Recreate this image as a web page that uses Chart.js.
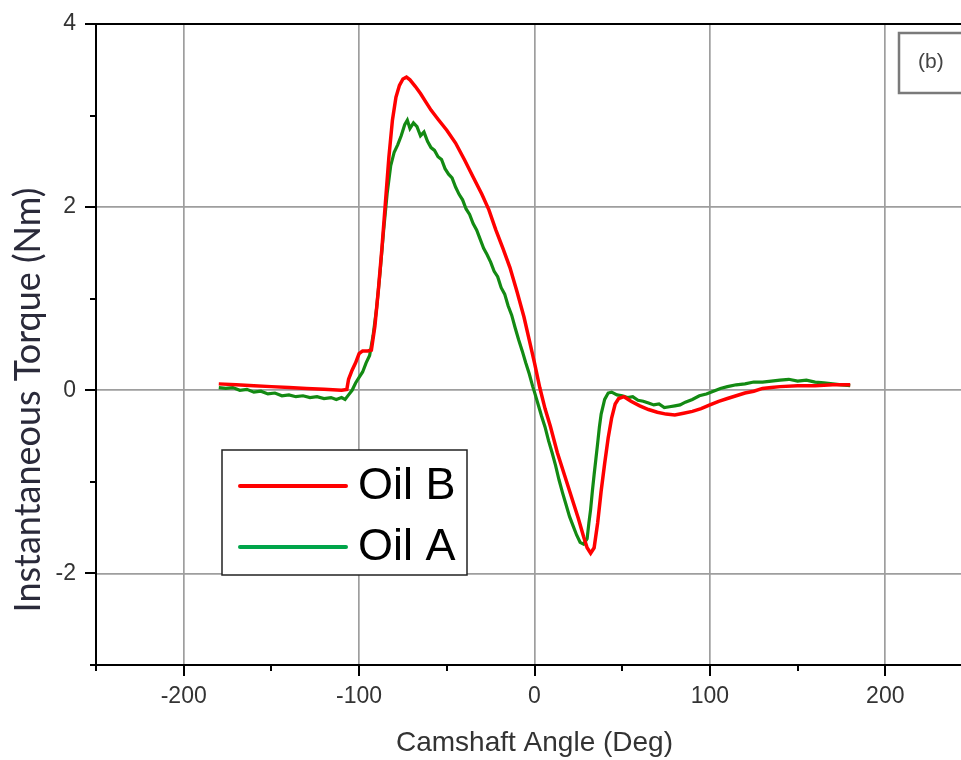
<!DOCTYPE html>
<html>
<head>
<meta charset="utf-8">
<script src="https://cdn.jsdelivr.net/npm/chart.js@4"></script>
<style>
  html, body { margin: 0; padding: 0; background: #fff; overflow: hidden; }
  #wrap { width: 1000px; height: 760px; }
</style>
</head>
<body>
<div id="wrap"><canvas id="c" width="1000" height="760" style="width:1000px;height:760px"></canvas></div>
<script>
// ---- Data ----
const seriesNames = ["Oil B", "Oil A"];

const oilB_angle = [-180,-170,-160,-150,-140,-130,-120,-110,-107,-106,-104,-102,-100,-98,-95,-93,-91,-89,-87,-85,-83,-81,-79,-77,-75,-73,-71,-68,-65,-62,-59,-55,-50,-45,-40,-35,-30,-26,-22,-18,-14,-10,-6,-3,0,3,6,9,13,17,21,25,28,30,32,34,36,38,40,42,44,46,48,51,55,60,65,70,75,80,85,90,95,100,105,110,115,120,125,130,135,140,150,160,170,180];
const oilB_torque = [0.07,0.06,0.05,0.04,0.03,0.02,0.01,0.0,0.01,0.12,0.22,0.30,0.40,0.43,0.43,0.44,0.70,1.10,1.55,2.05,2.55,2.95,3.20,3.33,3.40,3.42,3.39,3.32,3.24,3.15,3.06,2.96,2.84,2.70,2.52,2.33,2.14,1.97,1.75,1.55,1.34,1.08,0.80,0.55,0.30,0.03,-0.20,-0.39,-0.68,-0.92,-1.16,-1.40,-1.60,-1.72,-1.78,-1.72,-1.45,-1.10,-0.80,-0.52,-0.30,-0.15,-0.09,-0.07,-0.12,-0.17,-0.21,-0.24,-0.26,-0.27,-0.25,-0.23,-0.20,-0.16,-0.12,-0.09,-0.06,-0.03,-0.01,0.02,0.03,0.04,0.05,0.05,0.06,0.06];

const oilA_angle = [-180,-176,-172,-168,-164,-160,-156,-152,-148,-144,-140,-136,-132,-128,-124,-120,-116,-113,-110,-108,-106,-104,-102,-100,-98,-96,-94,-92,-90,-88,-86,-84,-82,-80,-78,-76,-74,-72.5,-71,-69,-67,-65,-63,-61,-59,-57,-55,-53,-51,-49,-47,-45,-43,-41,-39,-37,-35,-33,-31,-29,-27,-25,-23,-21,-19,-17,-15,-13,-11,-9,-7,-5,-3,-1,0,2,4,6,8,10,12,14,16,18,20,22,24,26,28,30,31,32,33,34,35,36,37,38,40,42,44,47,50,53,56,59,62,65,68,71,74,77,80,83,86,90,94,98,102,106,110,115,120,125,130,135,140,145,150,155,160,165,170,175,180];
const oilA_torque = [0.03,0.02,0.03,0.0,0.01,-0.02,-0.01,-0.04,-0.03,-0.06,-0.05,-0.07,-0.06,-0.08,-0.07,-0.09,-0.08,-0.10,-0.08,-0.10,-0.05,0.0,0.08,0.14,0.20,0.30,0.38,0.60,0.90,1.30,1.75,2.15,2.45,2.60,2.68,2.78,2.90,2.95,2.86,2.92,2.88,2.78,2.82,2.72,2.65,2.62,2.55,2.52,2.42,2.36,2.32,2.22,2.14,2.08,1.98,1.92,1.82,1.75,1.65,1.55,1.48,1.40,1.30,1.24,1.12,1.05,0.92,0.82,0.68,0.55,0.43,0.30,0.18,0.04,-0.02,-0.15,-0.28,-0.40,-0.55,-0.68,-0.82,-0.98,-1.12,-1.25,-1.38,-1.48,-1.58,-1.66,-1.68,-1.62,-1.45,-1.30,-1.10,-0.92,-0.75,-0.58,-0.40,-0.26,-0.10,-0.03,-0.02,-0.05,-0.06,-0.08,-0.07,-0.11,-0.12,-0.14,-0.16,-0.15,-0.19,-0.18,-0.17,-0.16,-0.13,-0.10,-0.06,-0.04,-0.01,0.02,0.04,0.06,0.07,0.09,0.09,0.10,0.11,0.12,0.10,0.11,0.09,0.08,0.07,0.06,0.05];

const xTickValues = [-200, -100, 0, 100, 200];
const yTickValues = [-2, 0, 2, 4];
const xTitle = "Camshaft Angle (Deg)";
const yTitle = "Instantaneous Torque (Nm)";
const panelLabel = "(b)";

// ---- Styles ----
const lineColors = ["#ff0000", "#138a13"];
const legendColors = ["#ff0000", "#00a54a"];

function pts(xs, ys) { return xs.map((x, i) => ({ x: x, y: ys[i] })); }

const framePlugin = {
  id: 'frameAndExtras',
  afterDraw(chart) {
    const ctx = chart.ctx;
    const a = chart.chartArea;
    const xs = chart.scales.x, ys = chart.scales.y;
    ctx.save();
    // frame
    ctx.strokeStyle = '#000';
    ctx.lineWidth = 2;
    ctx.strokeRect(a.left, a.top, a.right - a.left, a.bottom - a.top);
    // ticks (major / minor)
    ctx.lineWidth = 2;
    ctx.beginPath();
    for (let v = xs.min; v <= xs.max; v += 50) {
      const px = Math.round(xs.getPixelForValue(v));
      const len = (v % 100 === 0) ? 11 : 6;
      ctx.moveTo(px, a.bottom); ctx.lineTo(px, a.bottom + len);
    }
    for (let v = ys.min; v <= ys.max; v += 1) {
      const py = Math.round(ys.getPixelForValue(v));
      const len = (v % 2 === 0) ? 11 : 6;
      ctx.moveTo(a.left, py); ctx.lineTo(a.left - len, py);
    }
    ctx.stroke();

    // y axis title
    ctx.save();
    ctx.translate(28, 400);
    ctx.rotate(-Math.PI / 2);
    ctx.fillStyle = '#2a2a3a';
    ctx.font = '36px Lato, sans-serif';
    ctx.textAlign = 'center';
    ctx.textBaseline = 'middle';
    ctx.fillText(yTitle, 0, 0);
    ctx.restore();

    // legend box
    const lx = 222, ly = 450, lw = 245, lh = 125;
    ctx.fillStyle = '#fff';
    ctx.fillRect(lx, ly, lw, lh);
    ctx.strokeStyle = '#222';
    ctx.lineWidth = 1.5;
    ctx.strokeRect(lx, ly, lw, lh);
    const rows = [486, 547];
    chart.data.datasets.forEach((ds, i) => {
      ctx.strokeStyle = legendColors[i];
      ctx.lineWidth = 4;
      ctx.lineCap = 'round';
      ctx.beginPath();
      ctx.moveTo(240, rows[i]); ctx.lineTo(346, rows[i]);
      ctx.stroke();
      ctx.fillStyle = '#000';
      ctx.font = '45px "Liberation Sans", Arial, sans-serif';
      ctx.textBaseline = 'middle';
      ctx.textAlign = 'left';
      ctx.fillText(ds.label, 358, rows[i] + 1);
    });

    // panel label box
    ctx.lineCap = 'butt';
    ctx.strokeStyle = '#7a7a7a';
    ctx.lineWidth = 2.5;
    ctx.strokeRect(899, 33, 100, 60);
    ctx.fillStyle = '#444';
    ctx.font = '21px "Liberation Sans", Arial, sans-serif';
    ctx.textAlign = 'left';
    ctx.textBaseline = 'middle';
    ctx.fillText(panelLabel, 918, 62);
    ctx.restore();
  }
};

new Chart(document.getElementById('c'), {
  type: 'line',
  data: {
    datasets: [
      { label: seriesNames[0], data: pts(oilB_angle, oilB_torque), borderColor: lineColors[0], backgroundColor: lineColors[0], borderWidth: 3.5, pointRadius: 0, tension: 0, fill: false },
      { label: seriesNames[1], data: pts(oilA_angle, oilA_torque), borderColor: lineColors[1], backgroundColor: lineColors[1], borderWidth: 3.2, pointRadius: 0, tension: 0, fill: false }
    ]
  },
  options: {
    responsive: false,
    animation: false,
    devicePixelRatio: 1,
    layout: { padding: { top: 24, right: 27, left: 0, bottom: 0 } },
    plugins: { legend: { display: false }, tooltip: { enabled: false } },
    scales: {
      x: {
        type: 'linear', min: -250, max: 250,
        afterFit(s) { s.height = 95; s.paddingLeft = 0; s.paddingRight = 0; },
        afterBuildTicks(s) { s.ticks = xTickValues.map(v => ({ value: v })); },
        ticks: { padding: 18, color: '#333', font: { family: '"Liberation Sans", Arial, sans-serif', size: 23 } },
        grid: { color: '#9e9e9e', lineWidth: 1.7, drawTicks: false },
        border: { display: true, color: '#000', width: 2 },
        title: { display: true, text: xTitle, color: '#333', padding: { top: 0, bottom: 0 }, font: { family: '"Liberation Sans", Arial, sans-serif', size: 28 } }
      },
      y: {
        type: 'linear', min: -3, max: 4,
        afterFit(s) { s.width = 96; s.paddingTop = 0; s.paddingBottom = 0; },
        afterBuildTicks(s) { s.ticks = yTickValues.map(v => ({ value: v })); },
        ticks: { padding: 20, color: '#333', font: { family: '"Liberation Sans", Arial, sans-serif', size: 23 } },
        grid: { color: '#9e9e9e', lineWidth: 1.7, drawTicks: false },
        border: { display: true, color: '#000', width: 2 },
        title: { display: false }
      }
    }
  },
  plugins: [framePlugin]
});
</script>
</body>
</html>
